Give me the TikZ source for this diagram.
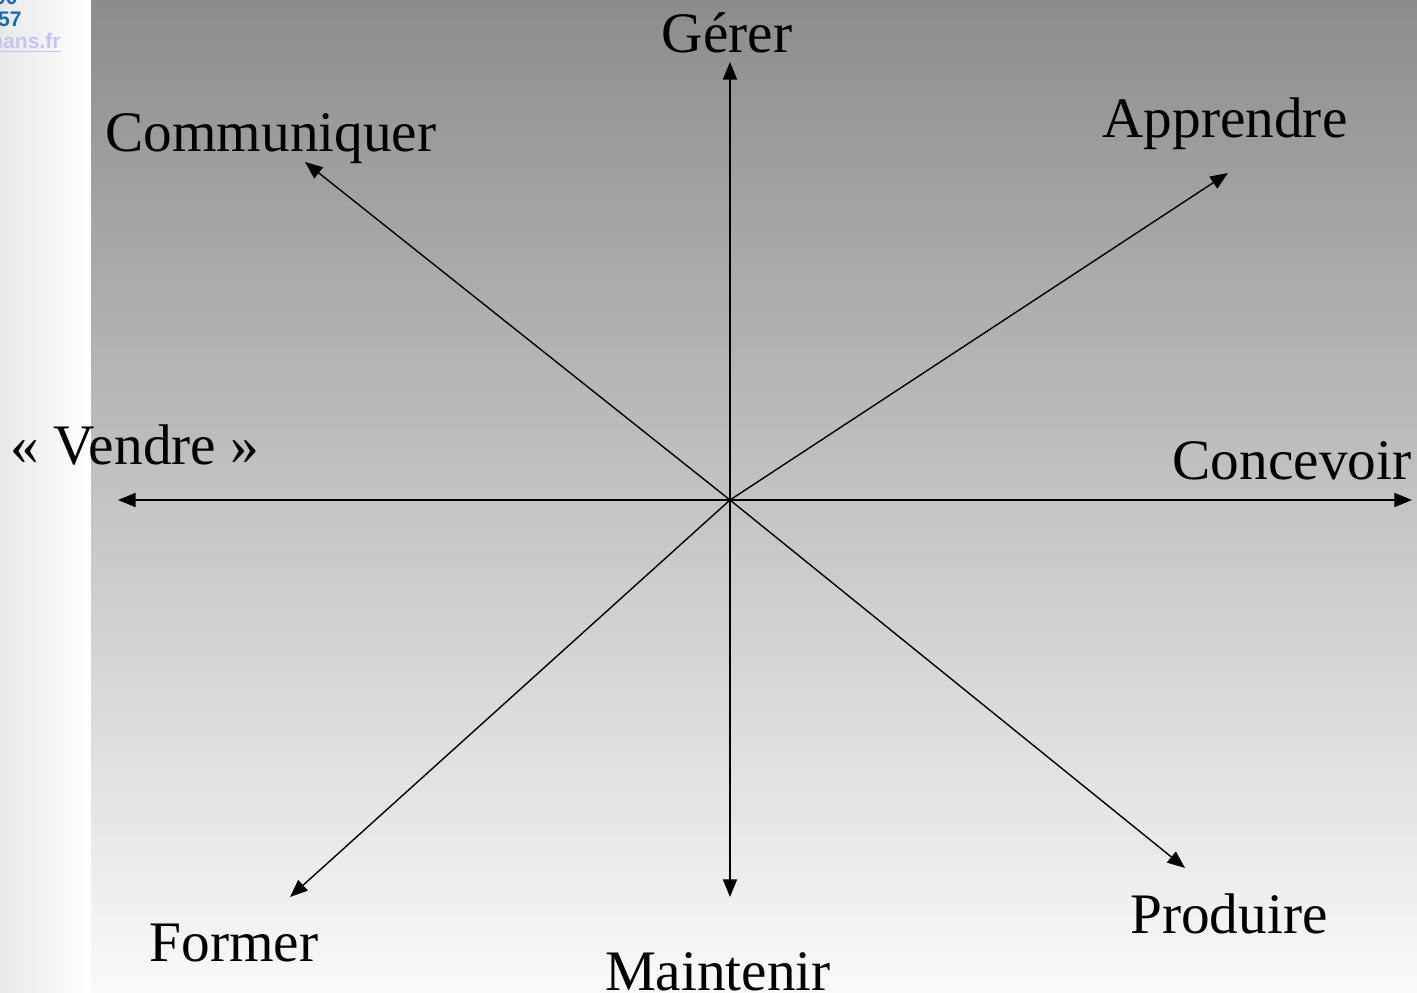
\documentclass[tikz,border=0pt]{standalone}
\usepackage{fontspec}
\setmainfont{Liberation Serif}
\newfontfamily\liensans{Liberation Sans}
\usetikzlibrary{arrows.meta}
\usetikzlibrary{positioning}
\definecolor{bleulien}{HTML}{1A6AAE}
\definecolor{lienvu}{HTML}{C4C4F0}
\tikzstyle{mot}=[inner sep=0pt,anchor=base,font=\fontsize{32.6}{38}\selectfont]
\tikzstyle{coin}=[inner sep=0pt,anchor=base east,font=\liensans\bfseries\fontsize{12}{14}\selectfont]
\tikzstyle{fleche}=[-{Triangle[length=10pt,width=8pt]},line width=0.8pt]

\begin{document}
\begin{tikzpicture}[x=0.02cm,y=-0.02cm]
\useasboundingbox (0,0) rectangle (1417,993);
\shade[left color=black!9,right color=white] (0,0) rectangle (91,993);
\shade[top color=black!45,bottom color=black!2] (91,0) rectangle (1417,993);
% coin haut gauche
\node[coin,text=bleulien] (tel) at (18,5) {00};
\node[coin,text=bleulien] (fax) at (22,27) {57};
\node[coin,text=lienvu] (site) at (61,49) {\underline{mans.fr}};
% centre et bouts
\coordinate (o) at (730,500);
\coordinate (n) at (730,62);
\coordinate (no) at (305,162);
\coordinate (ne) at (1228,173);
\coordinate (w) at (118,500);
\coordinate (e) at (1412,500);
\coordinate (so) at (290,897);
\coordinate (s) at (730,897);
\coordinate (se) at (1185,868);
% mots
\node[mot] (gerer) at (727,53) {Gérer};
\node[mot] (communiquer) at (271,152) {Communiquer};
\node[mot] (apprendre) at (1225,138) {Apprendre};
\node[mot] (vendre) at (135,464) {« Vendre »};
\node[mot] (concevoir) at (1292,479) {Concevoir};
\node[mot] (former) at (234,961) {Former};
\node[mot] (maintenir) at (718,990) {Maintenir};
\node[mot] (produire) at (1229,933) {Produire};
% fleches
\draw[fleche] (o) -- (n);
\draw[fleche] (o) -- (no);
\draw[fleche] (o) -- (ne);
\draw[fleche] (o) -- (w);
\draw[fleche] (o) -- (e);
\draw[fleche] (o) -- (so);
\draw[fleche] (o) -- (s);
\draw[fleche] (o) -- (se);
\end{tikzpicture}
\end{document}
